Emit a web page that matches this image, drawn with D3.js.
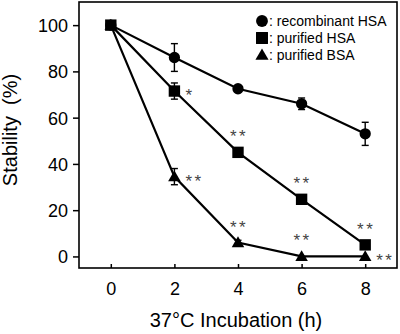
<!DOCTYPE html>
<html>
<head>
<meta charset="utf-8">
<script src="https://cdn.jsdelivr.net/npm/d3@7"></script>
<style>
  body { margin: 0; background: #fff; }
  svg { display: block; font-family: "Liberation Sans", Arial, sans-serif; }
</style>
</head>
<body>
<svg width="400" height="334"></svg>
<script>
// data
var hours = [0, 2, 4, 6, 8];
var recHSA = [100, 86, 72.5, 66, 53];
var recHSAerr = [0, 6, 1, 2.5, 5];
var purHSA = [100, 71.5, 45, 24.7, 5];
var purHSAerr = [0, 3.5, 2, 1.5, 0];
var purBSA = [100, 34.5, 6, 0, 0];
var purBSAerr = [0, 3.5, 1, 0, 0];
// significance marks: [hour, text, position]
var hsaStars = [[2, "*", "right"], [4, "**", "above"], [6, "**", "above"], [8, "**", "above"]];
var bsaStars = [[2, "**", "right"], [4, "**", "above"], [6, "**", "above"], [8, "**", "right"]];
var xTicks = [0, 2, 4, 6, 8];
var yTicks = [0, 20, 40, 60, 80, 100];
var legendNames = [": recombinant HSA", ": purified HSA", ": purified BSA"];

var svg = d3.select("svg");
var x = d3.scaleLinear().domain([-1, 9]).range([79, 397]);
var y = d3.scaleLinear().domain([-5, 110]).range([268, 2]);

var series = [
  {vals: recHSA, err: recHSAerr, shape: d3.symbolCircle, size: 100},
  {vals: purHSA, err: purHSAerr, shape: d3.symbolSquare, size: 130},
  {vals: purBSA, err: purBSAerr, shape: d3.symbolTriangle, size: 68}
];

// frame
svg.append("rect")
  .attr("x", x.range()[0]).attr("y", y.range()[1])
  .attr("width", x.range()[1] - x.range()[0])
  .attr("height", y.range()[0] - y.range()[1])
  .attr("fill", "none").attr("stroke", "#000").attr("stroke-width", 1.6);

// axes
var yAxis = svg.append("g")
  .attr("transform", "translate(" + x.range()[0] + ",0)")
  .call(d3.axisLeft(y).tickValues(yTicks).tickSize(6).tickPadding(5));
var xAxis = svg.append("g")
  .attr("transform", "translate(0," + y.range()[0] + ")")
  .call(d3.axisBottom(x).tickValues(xTicks).tickSize(-4).tickPadding(14));
[xAxis, yAxis].forEach(function(a) {
  a.select(".domain").remove();
  a.selectAll("line").attr("stroke-width", 1.5);
  a.selectAll("text").style("font-size", "18px").attr("fill", "#000")
    .style("font-family", "'Liberation Sans', Arial, sans-serif");
});
yAxis.selectAll("text").attr("dy", "0.36em");

var line = d3.line()
  .x(function(d, i) { return x(hours[i]); })
  .y(function(d) { return y(d); });

series.forEach(function(s) {
  svg.append("path").datum(s.vals)
    .attr("d", line).attr("fill", "none")
    .attr("stroke", "#000").attr("stroke-width", 2.2);

  var eb = svg.append("g").selectAll("g")
    .data(s.vals.map(function(v, i) { return {h: hours[i], v: v, e: s.err[i]}; })
      .filter(function(d) { return d.e > 0; }))
    .enter().append("g");
  eb.append("line")
    .attr("x1", function(d) { return x(d.h); }).attr("x2", function(d) { return x(d.h); })
    .attr("y1", function(d) { return y(d.v - d.e); }).attr("y2", function(d) { return y(d.v + d.e); })
    .attr("stroke", "#000").attr("stroke-width", 1.4);
  [-1, 1].forEach(function(sg) {
    eb.append("line")
      .attr("x1", function(d) { return x(d.h) - 3.5; }).attr("x2", function(d) { return x(d.h) + 3.5; })
      .attr("y1", function(d) { return y(d.v + sg * d.e); }).attr("y2", function(d) { return y(d.v + sg * d.e); })
      .attr("stroke", "#000").attr("stroke-width", 1.4);
  });

  svg.append("g").selectAll("path")
    .data(s.vals).enter().append("path")
    .attr("d", d3.symbol().type(s.shape).size(s.size))
    .attr("transform", function(d, i) {
      var dy = s.shape === d3.symbolTriangle ? 1 : 0;
      return "translate(" + x(hours[i]) + "," + (y(d) + dy) + ")";
    })
    .attr("fill", "#000");
});

// asterisks
function stars(list, vals) {
  svg.append("g").selectAll("text")
    .data(list).enter().append("text")
    .attr("x", function(d) {
      return x(d[0]) + (d[2] === "right" ? 11 : 1);
    })
    .attr("y", function(d) {
      var v = vals[hours.indexOf(d[0])];
      return y(v) + (d[2] === "right" ? 10 : -10);
    })
    .attr("text-anchor", function(d) { return d[2] === "right" ? "start" : "middle"; })
    .style("font-size", "17px").style("letter-spacing", "2.5px")
    .attr("fill", "#444")
    .text(function(d) { return d[1]; });
}
stars(hsaStars, purHSA);
stars(bsaStars, purBSA);

// legend
var leg = svg.append("g").selectAll("g")
  .data(legendNames).enter().append("g")
  .attr("transform", function(d, i) { return "translate(262," + (21 + i * 17) + ")"; });
leg.append("path")
  .attr("d", function(d, i) { return d3.symbol().type(series[i].shape).size(series[i].size * 1.1)(); })
  .attr("transform", function(d, i) { return i === 2 ? "translate(0,1)" : null; })
  .attr("fill", "#000");
leg.append("text")
  .attr("x", 7).attr("y", 5)
  .style("font-size", "14px").attr("fill", "#000")
  .text(function(d) { return d; });

// axis titles
svg.append("text")
  .attr("transform", "translate(17,130) rotate(-90)")
  .attr("text-anchor", "middle")
  .style("font-size", "20px").style("white-space", "pre")
  .text("Stability  (%)");
svg.append("text")
  .attr("x", 236).attr("y", 327)
  .attr("text-anchor", "middle")
  .style("font-size", "20px")
  .text("37°C Incubation (h)");
</script>
</body>
</html>
